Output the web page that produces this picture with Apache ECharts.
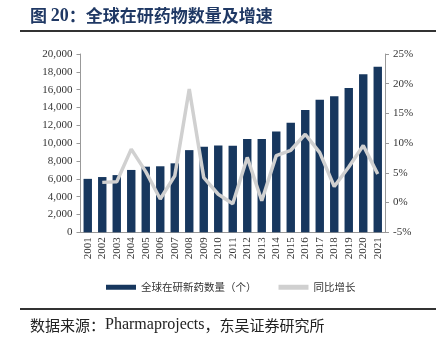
<!DOCTYPE html>
<html>
<head>
<meta charset="utf-8">
<script src="https://cdn.jsdelivr.net/npm/echarts@6/dist/echarts.min.js"></script>
<style>html,body{margin:0;padding:0;background:#fff;}#c{width:441px;height:340px;}</style>
</head>
<body>
<div id="c"></div>
<script>
const years = ['2001','2002','2003','2004','2005','2006','2007','2008','2009','2010','2011','2012','2013','2014','2015','2016','2017','2018','2019','2020','2021'];
const drugCounts = [5995,6198,6416,6994,7360,7406,7737,9217,9605,9737,9713,10452,10479,11307,12300,13718,14872,15267,16181,17737,18582];
const growthPct = [null,3.4,3.5,9.0,5.2,0.6,4.5,19.1,4.2,1.4,-0.2,7.6,0.3,7.9,8.8,11.5,8.4,2.7,6.0,9.6,4.8];
const leftTicks = {min:0, max:20000, interval:2000};
const rightTicks = {min:-5, max:25, interval:5};
const titleParts = ['图 ', '20', '：全球在研药物数量及增速'];
const sourceParts = ['数据来源：', 'Pharmaprojects', '，东吴证券研究所'];
const barName = '全球在研新药数量（个）';
const lineName = '同比增长';

const serif = '"Liberation Serif","Times New Roman",serif';
const cjk = '"Noto Sans CJK SC",sans-serif';
const chart = echarts.init(document.getElementById('c'));
chart.setOption({
  animation:false,
  backgroundColor:'#fff',
  grid:{left:80.5, right:56, top:54, bottom:107.7},
  legend:{
    left:101, top:277, itemGap:22, itemWidth:30, itemHeight:5,
    textStyle:{fontFamily:cjk, fontSize:10.5, color:'#333'},
    data:[
      {name:barName, icon:'rect', itemStyle:{color:'#17375e'}},
      {name:lineName, icon:'rect', itemStyle:{color:'#d0d0d0'}}
    ]
  },
  xAxis:{
    type:'category', data:years,
    axisLine:{lineStyle:{color:'#999'}},
    axisTick:{show:false},
    axisLabel:{rotate:90, interval:0, fontFamily:serif, fontSize:11, color:'#333', margin:5}
  },
  yAxis:[
    {type:'value', min:leftTicks.min, max:leftTicks.max, interval:leftTicks.interval,
     splitLine:{show:false},
     axisLine:{show:true, lineStyle:{color:'#999'}},
     axisTick:{show:true, length:4, lineStyle:{color:'#999'}},
     axisLabel:{fontFamily:serif, fontSize:11, color:'#333', margin:8,
       formatter:v=>v.toLocaleString('en-US')}},
    {type:'value', min:rightTicks.min, max:rightTicks.max, interval:rightTicks.interval,
     splitLine:{show:false},
     axisLine:{show:true, lineStyle:{color:'#999'}},
     axisTick:{show:true, length:4, lineStyle:{color:'#999'}},
     axisLabel:{fontFamily:serif, fontSize:11, color:'#333', margin:8, formatter:'{value}%'}}
  ],
  series:[
    {name:barName, type:'bar', data:drugCounts, barCategoryGap:'42%',
     itemStyle:{color:'#17375e'}},
    {name:lineName, type:'line', yAxisIndex:1, data:growthPct, showSymbol:false, symbol:'none',
     lineStyle:{color:'#d0d0d0', width:3.5}, itemStyle:{color:'#d0d0d0'}}
  ],
  graphic:[
    {type:'text', left:30, top:7, style:{
      text:'{a|'+titleParts[0]+'}{b|'+titleParts[1]+'}{a|'+titleParts[2]+'}',
      rich:{
        a:{fontFamily:cjk, fontWeight:'bold', fontSize:17, fill:'#1f3864', color:'#1f3864'},
        b:{fontFamily:serif, fontWeight:'bold', fontSize:18, fill:'#1f3864', color:'#1f3864'}
      }}},
    {type:'line', shape:{x1:20, y1:31, x2:436, y2:31}, style:{stroke:'#333', lineWidth:2}},
    {type:'line', shape:{x1:20, y1:309, x2:436, y2:309}, style:{stroke:'#333', lineWidth:2}},
    {type:'text', left:30, top:317, style:{
      text:'{a|'+sourceParts[0]+'}{b|'+sourceParts[1]+'}{a|'+sourceParts[2]+'}',
      rich:{
        a:{fontFamily:cjk, fontSize:15, fill:'#222', color:'#222'},
        b:{fontFamily:serif, fontSize:16, fill:'#222', color:'#222'}
      }}}
  ]
});
</script>
</body>
</html>
